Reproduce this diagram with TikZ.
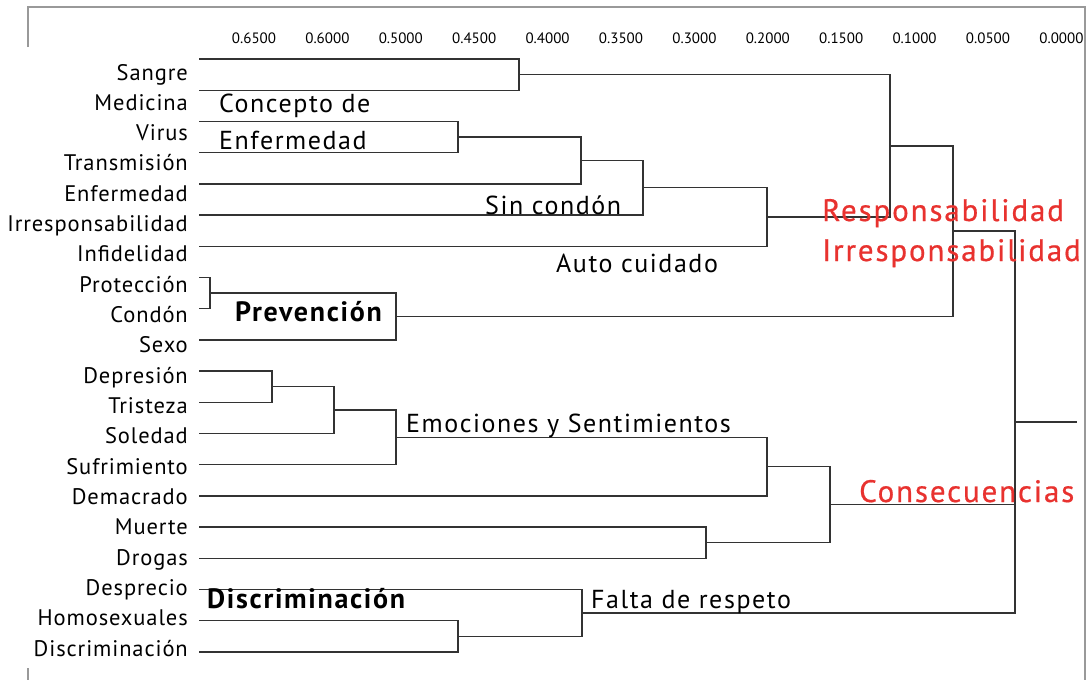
\documentclass[tikz,border=0pt]{standalone}
\usepackage{fontspec}
\setmainfont{PT Sans}
\definecolor{themered}{RGB}{232,50,47}
\begin{document}
\begin{tikzpicture}[x=1pt,y=-1pt]

      % Styles for the tree lines, the frame and the different kinds of text
      \tikzstyle{link}=[draw=black!80,line width=1.4pt]
      \tikzstyle{boxline}=[draw=black!40,line width=1.3pt]
      \tikzstyle{leaf}=[anchor=base east,inner sep=0pt,font=\fontsize{22.5}{26}\selectfont\addfontfeature{LetterSpace=4}]
      \tikzstyle{tick}=[anchor=base,inner sep=0pt,font=\fontsize{15}{18}\selectfont]
      \tikzstyle{cluster}=[anchor=base west,inner sep=0pt,font=\fontsize{26}{30}\selectfont\addfontfeature{LetterSpace=6}]
      \tikzstyle{heavy}=[cluster,font=\fontsize{28}{30}\selectfont\bfseries\addfontfeature{LetterSpace=6}]
      \tikzstyle{theme}=[cluster,text=themered,font=\fontsize{31}{34}\selectfont\addfontfeature{LetterSpace=6,FakeBold=0.6}]

      \def\dlink#1#2#3{\draw[link] (#2) -- (#2 -| #1) -- (#3 -| #1) -- (#3);}   % bracket joining #2 and #3 at the x of #1

      \useasboundingbox (0,0) rectangle (1089,680);

      \draw[boxline] (28,47) -- (28,7) -- (1085,7) -- (1085,680);
      \draw[boxline] (28,668) -- (28,680);

      % distance scale along the top
      \foreach \v [count=\k from 0] in {0.6500,0.6000,0.5000,0.4500,0.4000,0.3500,0.3000,0.2000,0.1500,0.1000,0.0500,0.0000}
         \node[tick] (a\k) at (254+73.4*\k,43) {\v};

      % leaves: a label and the start of its line
      \foreach \w [count=\i from 0] in {Sangre,Medicina,Virus,Transmisión,Enfermedad,Irresponsabilidad,Infidelidad,Protección,Condón,Sexo,Depresión,Tristeza,Soledad,Sufrimiento,Demacrado,Muerte,Drogas,Desprecio,Homosexuales,Discriminación}{
         \node[leaf] (t\i) at (188,80+30.32*\i) {\w};
         \coordinate (l\i) at (199,59+31.2*\i);
      }

      % merge points
      \coordinate (mA) at (519,74.6);
      \coordinate (mB) at (458,137);
      \coordinate (mC) at (581,160.4);
      \coordinate (mD) at (643,187.7);
      \coordinate (mE) at (767,217);
      \coordinate (mF) at (890,145.8);
      \coordinate (mG) at (210,293);
      \coordinate (mH) at (396,316.4);
      \coordinate (mI) at (953,231.1);
      \coordinate (mJ) at (272,386.6);
      \coordinate (mK) at (334,410);
      \coordinate (mL) at (396,437.3);
      \coordinate (mM) at (767,466.5);
      \coordinate (mN) at (706,542.6);
      \coordinate (mO) at (830,504.6);
      \coordinate (mP) at (458,636.2);
      \coordinate (mQ) at (582,612.8);
      \coordinate (root) at (1015,422);
      \coordinate (rootend) at (1077,422);

      \dlink{mA}{l0}{l1}
      \dlink{mB}{l2}{l3}
      \dlink{mC}{mB}{l4}
      \dlink{mD}{mC}{l5}
      \dlink{mE}{mD}{l6}
      \dlink{mF}{mA}{mE}
      \dlink{mG}{l7}{l8}
      \dlink{mH}{mG}{l9}
      \dlink{mI}{mF}{mH}
      \dlink{mJ}{l10}{l11}
      \dlink{mK}{mJ}{l12}
      \dlink{mL}{mK}{l13}
      \dlink{mM}{mL}{l14}
      \dlink{mN}{l15}{l16}
      \dlink{mO}{mM}{mN}
      \dlink{mP}{l18}{l19}
      \dlink{mQ}{l17}{mP}
      \dlink{root}{mI}{mQ}
      \draw[link] (mO) -- (mO -| root);
      \draw[link] (root) -- (rootend);

      % group names
      \node[cluster] (cd1) at (219,112.7) {Concepto de};
      \node[cluster] (cd2) at (219,149) {Enfermedad};
      \node[cluster] (sc) at (485,214) {Sin condón};
      \node[cluster] (ac) at (556,272) {Auto cuidado};
      \node[heavy] (pv) at (235,321.7) {Prevención};
      \node[cluster] (es) at (406,432.5) {Emociones y Sentimientos};
      \node[cluster] (fr) at (591,608) {Falta de respeto};
      \node[heavy] (dc) at (207,608) {Discriminación};
      \node[theme] (rp) at (822,221) {Responsabilidad};
      \node[theme] (ir) at (822,261) {Irresponsabilidad};
      \node[theme] (cs) at (859,502) {Consecuencias};

\end{tikzpicture}
\end{document}
